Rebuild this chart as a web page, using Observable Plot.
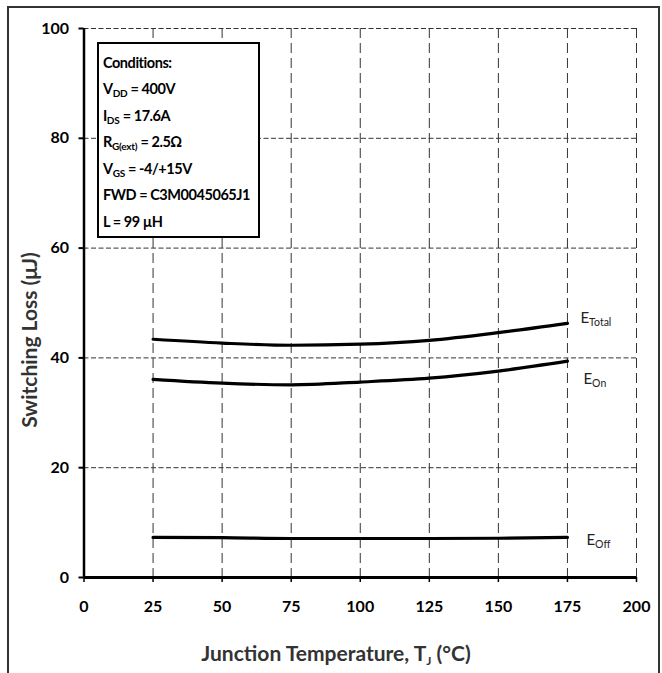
<!DOCTYPE html>
<html><head><meta charset="utf-8">
<script src="https://cdn.jsdelivr.net/npm/d3@7"></script>
<script src="https://cdn.jsdelivr.net/npm/@observablehq/plot@0.6"></script>
<style>
body{margin:0;background:#fff;}
#wrap{position:relative;width:662px;height:673px;overflow:hidden;background:#fff;}
#frame{position:absolute;left:6.5px;top:6px;width:653px;height:720px;border:2.5px solid #333;box-sizing:border-box;}
#chart{position:absolute;left:0;top:0;}
.font{font-family:Lato,"Open Sans",sans-serif;}
#cond{position:absolute;left:97px;top:42px;width:163px;height:196px;box-sizing:border-box;border:2px solid #000;background:#fff;padding:5.5px 0 0 4px;font-weight:bold;font-size:14.5px;line-height:26.5px;color:#000;white-space:nowrap;letter-spacing:-0.45px;}
#cond sub{font-size:10px;vertical-align:-3px;line-height:0;letter-spacing:-0.2px;}
#ytitle{position:absolute;left:28px;top:340px;transform:translate(-50%,-50%) rotate(-90deg);white-space:nowrap;font-weight:bold;font-size:21px;color:#333;}
#xtitle{position:absolute;left:336px;top:652px;transform:translate(-50%,-50%);white-space:nowrap;font-weight:bold;font-size:21px;color:#333;}
#xtitle sub{font-size:12px;vertical-align:-4px;line-height:0;}
</style></head>
<body>
<div id="wrap" class="font">
  <div id="frame"></div>
  <div id="chart"></div>
  <div id="cond"></div>
  <div id="ytitle"></div>
  <div id="xtitle"></div>
</div>
<script>
// ---- data ----
const temps = [25, 50, 75, 100, 125, 150, 175];
const eTotal = [43.4, 42.7, 42.3, 42.5, 43.2, 44.6, 46.3];
const eOn = [36.1, 35.4, 35.1, 35.6, 36.3, 37.6, 39.4];
const eOff = [7.3, 7.25, 7.1, 7.1, 7.1, 7.15, 7.3];
const seriesNames = ["Total", "On", "Off"];
const xTicks = [0, 25, 50, 75, 100, 125, 150, 175, 200];
const yTicks = [0, 20, 40, 60, 80, 100];
const yTitle = "Switching Loss (μJ)";
const xTitle = ["Junction Temperature, T", "J", " (°C)"];
const conditions = [
  ["Conditions:", "", ""],
  ["V", "DD", " = 400V"],
  ["I", "DS", " = 17.6A"],
  ["R", "G(ext)", " = 2.5Ω"],
  ["V", "GS", " = -4/+15V"],
  ["FWD = C3M0045065J1", "", ""],
  ["L = 99 µH", "", ""]
];

const seriesValues = [eTotal, eOn, eOff];
const rows = [];
seriesValues.forEach((vals, s) => temps.forEach((t, i) => rows.push({series: seriesNames[s], t, v: vals[i]})));
const ends = seriesNames.map((name, s) => ({series: name, t: temps[temps.length - 1], v: seriesValues[s][temps.length - 1]}));

const fontFam = 'Lato,"Open Sans",sans-serif';
const labelOffsets = {Total: [13, -5], On: [16, 18], Off: [19, 3]};

const plot = Plot.plot({
  width: 662,
  height: 673,
  marginLeft: 83.5,
  marginRight: 26,
  marginTop: 28,
  marginBottom: 96,
  style: {fontFamily: fontFam, background: "transparent", overflow: "visible"},
  x: {domain: [0, 200], ticks: xTicks},
  y: {domain: [0, 100], ticks: yTicks},
  marks: [
    Plot.gridX(xTicks.slice(1), {stroke: "#333", strokeOpacity: 1, strokeWidth: 1, strokeDasharray: "10,5"}),
    Plot.gridY(yTicks.slice(1), {stroke: "#333", strokeOpacity: 1, strokeWidth: 1, strokeDasharray: "5,2.5"}),
    Plot.axisX(xTicks, {tickSize: 5, tickPadding: 18, fontSize: 16, fontWeight: "bold", label: null, stroke: "#000", strokeWidth: 1.5, color: "#000"}),
    Plot.axisY(yTicks, {tickSize: 5, tickPadding: 10, fontSize: 16, fontWeight: "bold", label: null, stroke: "#000", strokeWidth: 2, color: "#000"}),
    Plot.ruleX([0], {stroke: "#000", strokeWidth: 2.5}),
    Plot.ruleY([0], {stroke: "#000", strokeWidth: 3}),
    Plot.line(rows, {x: "t", y: "v", z: "series", stroke: "#000", strokeWidth: 3.2, curve: "monotone-x"}),
    ...seriesNames.map(name => Plot.text(ends.filter(d => d.series === name), {
      x: "t", y: "v", text: () => "E", dx: labelOffsets[name][0], dy: labelOffsets[name][1],
      textAnchor: "start", fontSize: 15, fill: "#222", className: "elabel"
    }))
  ]
});
document.getElementById("chart").appendChild(plot);

// subscripts on series labels
d3.select(plot).selectAll("g.elabel").each(function(_, gi) {
  d3.select(this).selectAll("text").each(function() {
    d3.select(this).append("tspan").attr("font-size", 10.5).attr("dy", "0.3em").text(seriesNames[gi]);
  });
});

// conditions box
const cond = d3.select("#cond");
conditions.forEach(([a, b, c]) => {
  const line = cond.append("div");
  line.append("span").text(a);
  if (b) line.append("sub").text(b);
  if (c) line.append("span").text(c);
});

d3.select("#ytitle").text(yTitle);
const xt = d3.select("#xtitle");
xt.append("span").text(xTitle[0]);
xt.append("sub").text(xTitle[1]);
xt.append("span").text(xTitle[2]);
</script>
</body></html>
